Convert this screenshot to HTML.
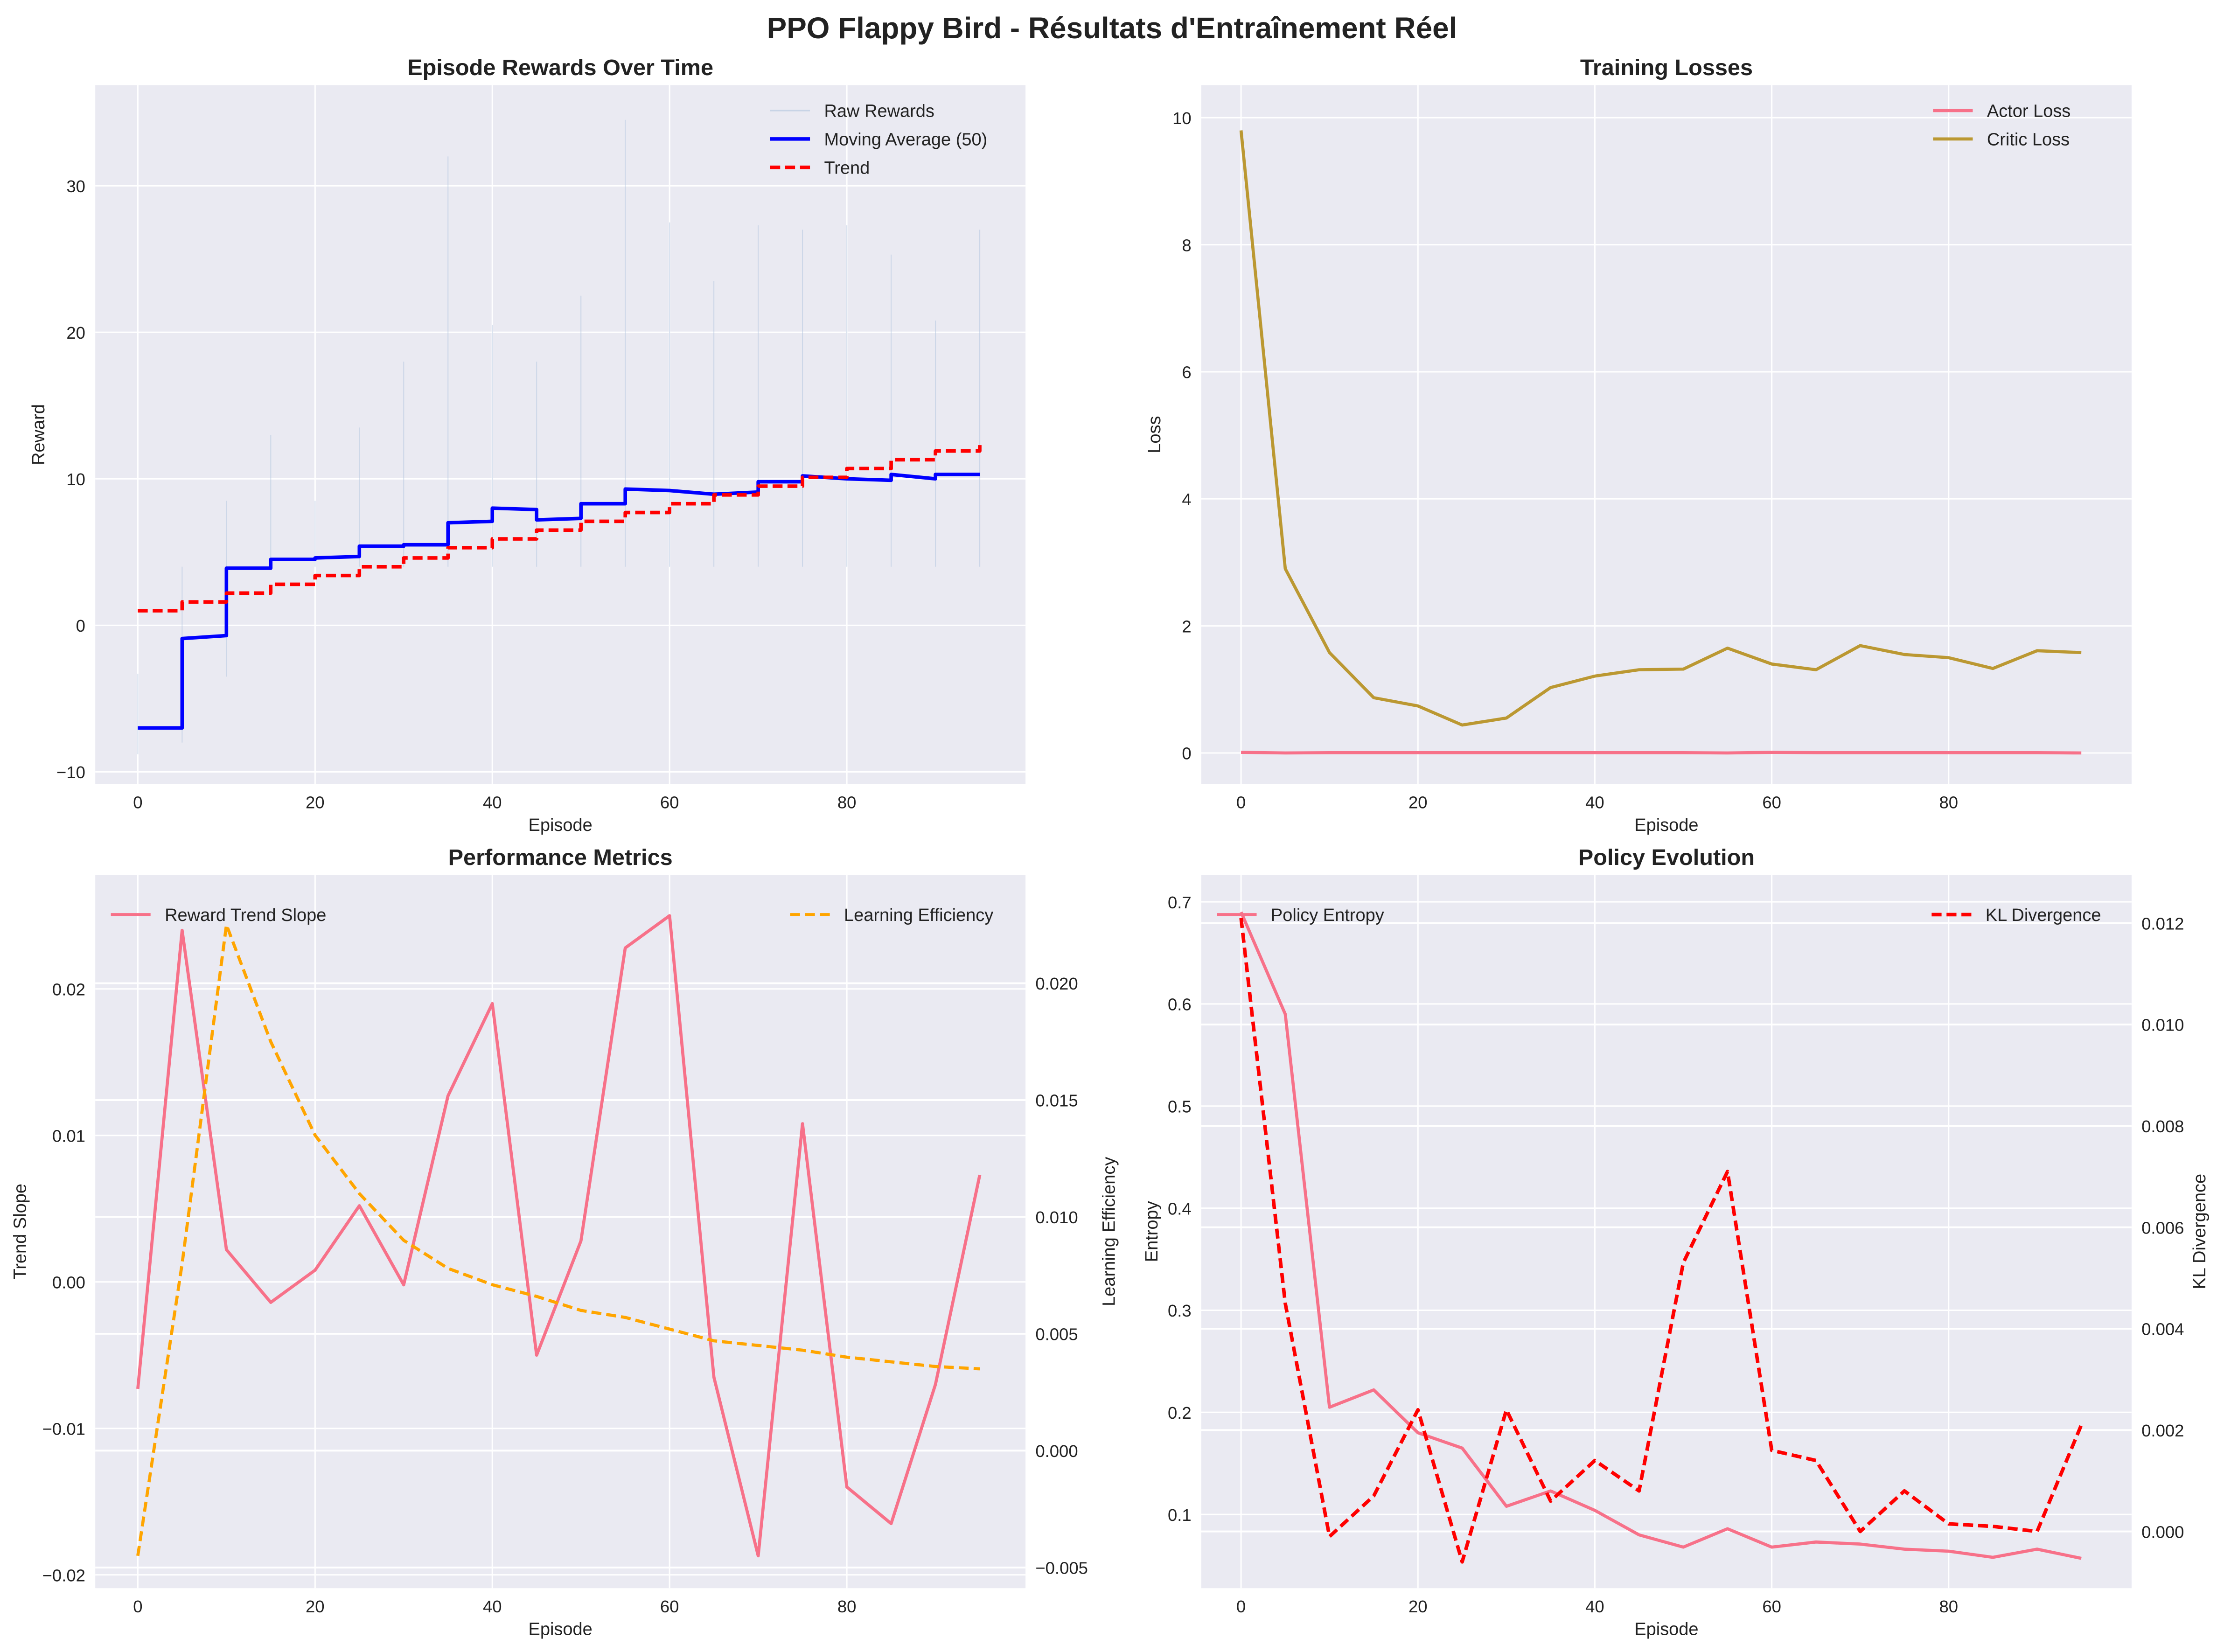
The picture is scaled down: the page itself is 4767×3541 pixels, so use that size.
<!DOCTYPE html>
<html><head><meta charset="utf-8"><style>
html,body{margin:0;padding:0;background:#fff;}
svg{display:block;font-family:"Liberation Sans",sans-serif;}
</style></head><body>
<svg id="fig" xmlns="http://www.w3.org/2000/svg" width="4767" height="3541" viewBox="0 0 1568 1165">
<rect width="1568" height="1165" fill="#fff"/>
<text x="784" y="27" text-anchor="middle" font-size="21" font-weight="bold" fill="#222">PPO Flappy Bird - Résultats d'Entraînement Réel</text>
</svg>
<script>
const episodes=[0,5,10,15,20,25,30,35,40,45,50,55,60,65,70,75,80,85,90,95];
const rawMax=[-3.3,4,8.5,13,8.5,13.5,18,32,20.5,18,22.5,34.5,27.5,23.5,27.3,27,27.3,25.3,20.8,27];
const rawMin=[-8.8,-8,-3.5,4,4,4,4,4,4,4,4,4,4,4,4,4,4,4,4,4];
const maStart=[-7.0,-0.9,3.9,4.5,4.6,5.4,5.5,7.0,8.0,7.2,8.3,9.3,9.2,8.95,9.8,10.2,10.0,10.3,10.3];
const maEnd=[-7.0,-0.7,3.9,4.5,4.7,5.4,5.5,7.1,7.9,7.3,8.3,9.2,8.95,9.1,9.8,10.0,9.9,10.0,10.3];
const trend=[1.0,1.6,2.2,2.8,3.4,4.0,4.6,5.3,5.9,6.5,7.1,7.7,8.3,8.9,9.5,10.1,10.7,11.3,11.9,12.5];
const criticLoss=[9.8,2.9,1.58,0.87,0.74,0.44,0.55,1.03,1.21,1.31,1.32,1.65,1.4,1.31,1.69,1.55,1.5,1.33,1.61,1.58];
const actorLoss=[0.01,0.0,0.005,0.005,0.005,0.005,0.005,0.005,0.005,0.005,0.005,0.0,0.01,0.005,0.005,0.005,0.005,0.005,0.005,0.0];
const trendSlope=[-0.0073,0.024,0.0022,-0.0014,0.0008,0.0052,-0.0002,0.0127,0.019,-0.005,0.0028,0.0228,0.025,-0.0065,-0.0187,0.0108,-0.014,-0.0165,-0.007,0.0073];
const efficiency=[-0.0045,0.008,0.0225,0.0175,0.0135,0.011,0.009,0.0078,0.0071,0.0066,0.006,0.0057,0.0052,0.0047,0.0045,0.0043,0.004,0.0038,0.0036,0.0035];
const entropy=[0.69,0.59,0.205,0.222,0.18,0.165,0.108,0.123,0.104,0.08,0.068,0.086,0.068,0.073,0.071,0.066,0.064,0.058,0.066,0.057];
const klDiv=[0.0121,0.0045,-0.0001,0.0007,0.0024,-0.0006,0.0024,0.0006,0.0014,0.0008,0.0053,0.0071,0.0016,0.0014,0.0,0.0008,0.00015,0.0001,0.0,0.0021];
const xTicks=[0,20,40,60,80];
const NS="http://www.w3.org/2000/svg";
const fig=document.getElementById('fig');
function el(tag,attrs,parent,text){const e=document.createElementNS(NS,tag);for(const k in attrs)e.setAttribute(k,attrs[k]);if(text!==undefined)e.textContent=text;(parent||fig).appendChild(e);return e;}
function lin(d0,d1,p0,p1){return v=>p0+(v-d0)*(p1-p0)/(d1-d0);}
const PINK="#f77189",GOLD="#bb9832";
function panel(name,L,R,T,B,title,xs,ylab,ylx){
  const g=el('g',{});
  
  
  const bg=el('rect',{x:L,y:T,width:R-L,height:B-T,fill:'#eaeaf2'},g);
  
  
  const t=el('text',{x:(L+R)/2,y:T-7,'text-anchor':'middle','font-size':16,'font-weight':'bold',fill:'#222'},g,title);
  
  
  xTicks.forEach(v=>{const x=xs(v);el('line',{x1:x,x2:x,y1:T,y2:B,stroke:'#fff','stroke-width':1},g);
    const tl=el('text',{x:x,y:B+17,'text-anchor':'middle','font-size':12,fill:'#222'},g,v);
    
    });
  const xl=el('text',{x:(L+R)/2,y:B+33,'text-anchor':'middle','font-size':12.5,fill:'#222'},g,'Episode');
  
  
  const yl=el('text',{x:0,y:0,'text-anchor':'middle','font-size':12.5,fill:'#222',transform:`translate(${ylx},${(T+B)/2}) rotate(-90)`},g,ylab);
  
  
  return g;
}
function yTicks(g,L,R,ys,ticks,fmt,side,grid){
  ticks.forEach(v=>{const y=ys(v);if(grid)el('line',{x1:L,x2:R,y1:y,y2:y,stroke:'#fff','stroke-width':grid},g);
    const tl=el('text',{x:side==='l'?L-7:R+7,y:y+4.5,'text-anchor':side==='l'?'end':'start','font-size':12,fill:'#222'},g,fmt(v));
    
    });
}
function line(g,xs,ys,xv,yv,color,w,dash,name){
  const d=xv.map((x,i)=>(i?'L':'M')+xs(x).toFixed(2)+','+ys(yv[i]).toFixed(2)).join('');
  const p=el('path',{d:d,fill:'none',stroke:color,'stroke-width':w,'stroke-dasharray':dash||'none','stroke-linejoin':'round'},g);
  
  
  return p;
}
function legend(g,x,y,items){
  items.forEach((it,i)=>{const yy=y+i*20;
    el('line',{x1:x,x2:x+28,y1:yy,y2:yy,stroke:it.c,'stroke-width':it.sw,'stroke-dasharray':it.d||'none','stroke-opacity':it.o||1},g);
    const t=el('text',{x:x+38,y:yy+4.5,'font-size':12.5,fill:'#222'},g,it.t);
    
    });
}
// Panel 1
(function(){const L=67,R=723,T=60,B=553;const xs=lin(0,80,97,597),ys=lin(0,30,441,131);
 const g=panel('rewards-panel',L,R,T,B,'Episode Rewards Over Time',xs,'Reward',31);
 yTicks(g,L,R,ys,[-10,0,10,20,30],v=>v<0?'\u2212'+(-v):v,'l',1);
 episodes.forEach((e,i)=>{
   const r=el('line',{x1:xs(e),x2:xs(e),y1:ys(rawMin[i]),y2:ys(rawMax[i]),stroke:'#b0c4de','stroke-width':0.7,'stroke-opacity':0.5},g);
   
   });
 const mx=[],my=[];maStart.forEach((v,i)=>{mx.push(episodes[i],episodes[i+1]);my.push(v,maEnd[i]);});
 line(g,xs,ys,mx,my,'#0000ff',2.5,null,'moving-average-line');
 const tx=[],ty=[];for(let i=0;i<trend.length-1;i++){tx.push(episodes[i],episodes[i+1]);ty.push(trend[i],trend[i]);}
 tx.push(episodes[19]);ty.push(trend[19]);
 line(g,xs,ys,tx,ty,'#ff0000',2.5,'7,3.5','trend-line');
 legend(g,543,78,[{c:'#b0c4de',sw:1,t:'Raw Rewards',o:0.6},{c:'#0000ff',sw:2.5,t:'Moving Average (50)'},{c:'#ff0000',sw:2.5,d:'7,3.5',t:'Trend'}]);
})();
// Panel 2
(function(){const L=847,R=1503,T=60,B=553;const xs=lin(0,80,875,1374),ys=lin(0,10,531,83);
 const g=panel('losses-panel',L,R,T,B,'Training Losses',xs,'Loss',818);
 yTicks(g,L,R,ys,[0,2,4,6,8,10],v=>v,'l',1);
 line(g,xs,ys,episodes,actorLoss,PINK,2.2,null,'actor-loss-line');
 line(g,xs,ys,episodes,criticLoss,GOLD,2.2,null,'critic-loss-line');
 legend(g,1363,78,[{c:PINK,sw:2.2,t:'Actor Loss'},{c:GOLD,sw:2.2,t:'Critic Loss'}]);
})();
// Panel 3
(function(){const L=67,R=723,T=617,B=1120;const xs=lin(0,80,97,597),ys=lin(0,0.02,904,697.4),ys2=lin(0,0.02,1023,693.4);
 const g=panel('performance-panel',L,R,T,B,'Performance Metrics',xs,'Trend Slope',18);
 yTicks(g,L,R,ys,[-0.02,-0.01,0,0.01,0.02],v=>v<0?'\u2212'+(-v).toFixed(2):v.toFixed(2),'l',1);
 yTicks(g,L,R,ys2,[-0.005,0,0.005,0.01,0.015,0.02],v=>v<0?'\u2212'+(-v).toFixed(3):v.toFixed(3),'r',1.3);
 const yl=el('text',{'text-anchor':'middle','font-size':12.5,fill:'#222',transform:`translate(786,${(T+B)/2}) rotate(-90)`},g,'Learning Efficiency');
 
 
 line(g,xs,ys,episodes,trendSlope,PINK,2.2,null,'reward-trend-slope-line');
 line(g,xs,ys2,episodes,efficiency,'#ffa500',2.2,'7,3.5','learning-efficiency-line');
 legend(g,78,645,[{c:PINK,sw:2.2,t:'Reward Trend Slope'}]);
 legend(g,557,645,[{c:'#ffa500',sw:2.2,d:'7,3.5',t:'Learning Efficiency'}]);
})();
// Panel 4
(function(){const L=847,R=1503,T=617,B=1120;const xs=lin(0,80,875,1374),ys=lin(0.1,0.7,1068,636),ys2=lin(0,0.012,1080,651);
 const g=panel('policy-panel',L,R,T,B,'Policy Evolution',xs,'Entropy',816);
 yTicks(g,L,R,ys,[0.1,0.2,0.3,0.4,0.5,0.6,0.7],v=>v.toFixed(1),'l',1);
 yTicks(g,L,R,ys2,[0,0.002,0.004,0.006,0.008,0.01,0.012],v=>v.toFixed(3),'r',1.3);
 const yl=el('text',{'text-anchor':'middle','font-size':12.5,fill:'#222',transform:`translate(1555,${(T+B)/2}) rotate(-90)`},g,'KL Divergence');
 
 
 line(g,xs,ys,episodes,entropy,PINK,2.2,null,'policy-entropy-line');
 line(g,xs,ys2,episodes,klDiv,'#ff0000',2.5,'7,3.5','kl-divergence-line');
 legend(g,858,645,[{c:PINK,sw:2.2,t:'Policy Entropy'}]);
 legend(g,1362,645,[{c:'#ff0000',sw:2.5,d:'7,3.5',t:'KL Divergence'}]);
})();
</script>
</body></html>
